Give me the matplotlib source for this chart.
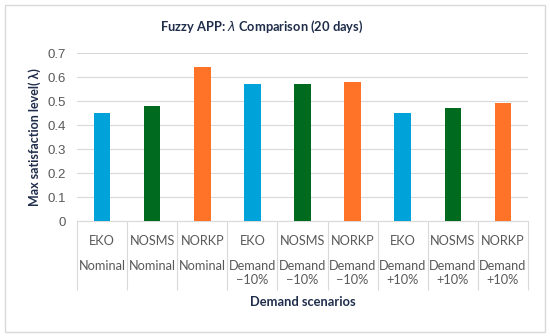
import matplotlib.pyplot as plt
from matplotlib.patches import Rectangle

# chart data
methods = ["EKO", "NOSMS", "NORKP", "EKO", "NOSMS", "NORKP", "EKO", "NOSMS", "NORKP"]
scenarios = ["Nominal", "Nominal", "Nominal",
             "Demand\n\u221210%", "Demand\n\u221210%", "Demand\n\u221210%",
             "Demand\n+10%", "Demand\n+10%", "Demand\n+10%"]
lam = [0.45, 0.48, 0.64, 0.57, 0.57, 0.58, 0.45, 0.47, 0.49]
method_colors = {"EKO": "#00A2DA", "NOSMS": "#006A1E", "NORKP": "#FF7328"}

plt.rcParams["font.family"] = ["Lato", "DejaVu Sans"]

fig = plt.figure(figsize=(5.5, 3.36), dpi=100)
ax = fig.add_axes([0.14, 0.342, 0.82, 0.5])

x = list(range(len(lam)))
ax.bar(x, lam, width=0.33, color=[method_colors[m] for m in methods], zorder=3)

ax.set_ylim(0, 0.7)
ax.set_xlim(-0.5, len(lam) - 0.5)
ax.set_yticks([0, 0.1, 0.2, 0.3, 0.4, 0.5, 0.6, 0.7])
ax.set_yticklabels(["0", "0.1", "0.2", "0.3", "0.4", "0.5", "0.6", "0.7"],
                   family="Liberation Sans", fontsize=9.5, color="#595959")
ax.tick_params(axis="y", length=0, pad=8)
ax.grid(axis="y", color="#D9D9D9", linewidth=0.8, zorder=0)

for s in ["top", "right", "left"]:
    ax.spines[s].set_visible(False)
ax.spines["bottom"].set_color("#D9D9D9")

# first level of the category axis
ax.set_xticks(x)
ax.set_xticklabels(methods, fontsize=9.2, color="#595959")
ax.tick_params(axis="x", length=0, pad=10)
# dividers between categories
ax.set_xticks([i - 0.5 for i in range(len(lam) + 1)], minor=True)
ax.tick_params(axis="x", which="minor", length=50, color="#D9D9D9", width=0.8)

# second level of the category axis
sec = ax.secondary_xaxis("bottom")
sec.set_xticks(x)
sec.set_xticklabels(scenarios, fontsize=9.2, color="#595959", linespacing=1.2)
sec.tick_params(axis="x", length=0, pad=28)
sec.spines["bottom"].set_visible(False)

fig.text(0.476, 1 - 27 / 336, r"Fuzzy APP: $\lambda$ Comparison (20 days)",
         ha="center", va="center", fontsize=9.3, fontweight="bold", color="#1F2D4B")
fig.text(35 / 550, 1 - 137 / 336, "Max satisfaction level( \u03bb)",
         rotation=90, ha="center", va="center", fontsize=9, fontweight="bold",
         color="#1F2D4B")
fig.text(0.55, 1 - 302 / 336, "Demand scenarios", ha="center", va="center",
         fontsize=9.3, fontweight="bold", color="#1F2D4B")

fig.patches.append(Rectangle((5 / 550, 4 / 336), 540 / 550, 327 / 336,
                             transform=fig.transFigure, fill=False,
                             edgecolor="#D9D9D9", linewidth=1))

fig.savefig("out.png", dpi=100)
